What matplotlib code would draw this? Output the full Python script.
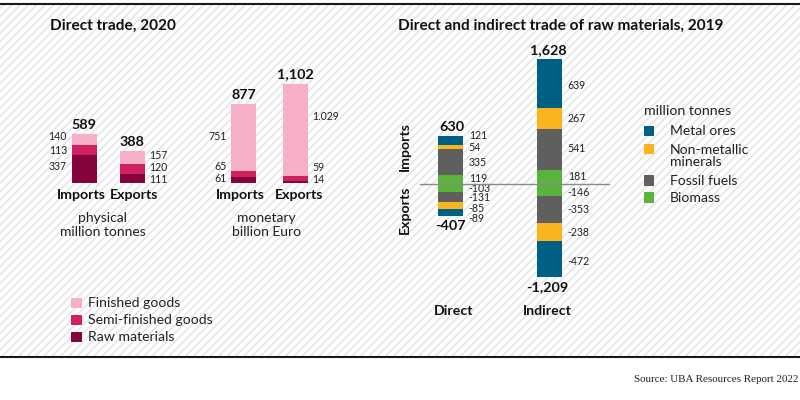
import matplotlib
matplotlib.use('Agg')
import matplotlib.pyplot as plt
from matplotlib.patches import Rectangle

plt.rcParams['font.family'] = ['Lato', 'DejaVu Sans']
plt.rcParams['hatch.linewidth'] = 1.2

W, H = 800, 400

# direct trade 2020: raw, semi-finished, finished
goods = ['Raw materials', 'Semi-finished goods', 'Finished goods']
goods_colors = ['#83053c', '#cf2060', '#f5b0c5']
trade_labels = ['Imports', 'Exports']
physical = [[337, 111], [113, 120], [140, 157]]
physical_totals = ['589', '388']
monetary = [[61, 14], [65, 59], [751, 1029]]
monetary_labels = [['61', '14'], ['65', '59'], ['751', '1.029']]
monetary_totals = ['877', '1,102']

# direct and indirect trade 2019: biomass outwards to metal ores
materials = ['Biomass', 'Fossil fuels', 'Non-metallic\nminerals', 'Metal ores']
material_colors = ['#5ab43c', '#5f5f5f', '#fab41e', '#005f85']
flow_labels = ['Direct', 'Indirect']
imports_2019 = [[119, 181], [335, 541], [54, 267], [121, 639]]
exports_2019 = [[-103, -146], [-131, -353], [-85, -238], [-89, -472]]
imports_totals = ['630', '1,628']
exports_totals = ['-407', '-1,209']

fig = plt.figure(figsize=(W / 100, H / 100), dpi=100, facecolor='white')

# full figure overlay in pixels, y going down
bg = fig.add_axes([0, 0, 1, 1], zorder=0)
bg.set_xlim(0, W)
bg.set_ylim(H, 0)
bg.axis('off')
bg.add_patch(Rectangle((0, 4), W, 353, facecolor='white', edgecolor='#e3e5e8',
                       hatch='////', linewidth=0))
bg.plot([0, W], [3.5, 3.5], color='#1a1a1a', lw=1.5, solid_capstyle='butt')
bg.plot([0, W], [357, 357], color='#1a1a1a', lw=1.5, solid_capstyle='butt')


def panel(left, right, top, bottom, ylim, xlim):
    ax = fig.add_axes([left / W, 1 - bottom / H, (right - left) / W, (bottom - top) / H],
                      zorder=2)
    ax.set_xlim(*xlim)
    ax.set_ylim(*ylim)
    ax.axis('off')
    ax.patch.set_alpha(0)
    return ax


def seg_label(ax, x, y, text, side, dy, gap):
    ax.annotate(text, (x, y), xytext=(gap * side * 0.72, -dy * 0.72),
                textcoords='offset points', fontsize=7.6, color='#222222',
                ha='left' if side > 0 else 'right', va='center')


def total_label(ax, x, y, text, dx, dy):
    ax.annotate(text, (x, y), xytext=(dx * 0.72, dy * 0.72), textcoords='offset points',
                fontsize=10.4, fontweight='bold', color='#111111', ha='center', va='center')


def stacked(ax, series, colors, width):
    for i in range(2):
        base = 0
        for vals, c in zip(series, colors):
            ax.bar(i, vals[i], width, bottom=base, color=c, linewidth=0)
            base += vals[i]


# physical panel
ax1 = panel(60.5, 156.5, 60, 182.7, (0, 122.7 / 0.0827), (-0.5, 1.5))
stacked(ax1, physical, goods_colors, 25 / 48)
phys_dy = [[-2, 1], [0, -1], [-2.7, -1.4]]
for i, side, gap in [(0, -1, 5), (1, 1, 4.5)]:
    base = 0
    for s, vals in enumerate(physical):
        seg_label(ax1, i + side * 25 / 96, base + vals[i] / 2, str(vals[i]), side, phys_dy[s][i], gap)
        base += vals[i]
    total_label(ax1, i, base, physical_totals[i], -0.8, 9)

# monetary panel
ax2 = panel(217.9, 321.1, 60, 182.7, (0, 122.7 / 0.09), (-0.5, 1.5))
stacked(ax2, monetary, goods_colors, 24.7 / 51.6)
mon_dy = [[-1, -3], [-7.3, -11.7], [-1.3, -13.8]]
for i, side, gap in [(0, -1, 4.6), (1, 1, 4.4)]:
    base = 0
    for s, vals in enumerate(monetary):
        seg_label(ax2, i + side * 24.7 / 103.2, base + vals[i] / 2, monetary_labels[s][i], side, mon_dy[s][i], gap)
        base += vals[i]
    total_label(ax2, i, base, monetary_totals[i], 0, 9)

# raw materials panel
scale = 0.0768
ax3 = panel(401.35, 620, 40, 300, ((184.3 - 300) / scale, (184.3 - 40) / scale),
            (-0.5, -0.5 + 218.65 / 98.9))
bar_w = 25 / 98.9
stacked(ax3, imports_2019, material_colors, bar_w)
stacked(ax3, exports_2019, material_colors, bar_w)
ax3.plot([(420.3 - 401.35) / 98.9 - 0.5, (608.7 - 401.35) / 98.9 - 0.5], [0, 0],
         color='#8a8a8a', lw=1, zorder=5)
imp_dy = [[-1.4, -1], [0.4, -1], [0.3, 0.4], [-4.7, 2]]
exp_dy = [[-0.2, 3], [0.4, 0.7], [2.8, 1], [5.8, 2.7]]
for i in range(2):
    for series, dys, lab, off in [(imports_2019, imp_dy, imports_totals[i], -9),
                                  (exports_2019, exp_dy, exports_totals[i], 10)]:
        base = 0
        for s, vals in enumerate(series):
            seg_label(ax3, i + bar_w / 2, base + vals[i] / 2, str(vals[i]), 1, dys[s][i], 5.5)
            base += vals[i]
        total_label(ax3, i, base, lab, [1, -1][i] if off < 0 else [0, -2.5][i], -off)

# texts in pixel positions
label_font = dict(fontsize=10.2, fontweight='bold', color='#111111', ha='center', va='center')
for x, y, s in [(81.7, 195, trade_labels[0]), (133.7, 195, trade_labels[1]),
                (240, 195, trade_labels[0]), (299.3, 195, trade_labels[1]),
                (453.3, 311.3, flow_labels[0]), (547, 311.3, flow_labels[1])]:
    bg.text(x, y, s, **label_font)
bg.text(405.3, 146.7, trade_labels[0], rotation=90, **label_font)
bg.text(405.3, 210, trade_labels[1], rotation=90, **label_font)

bg.text(50, 26, 'Direct trade, 2020', fontsize=11.1, fontweight='bold', color='#111111', va='center')
bg.text(397.7, 26, 'Direct and indirect trade of raw materials, 2019', fontsize=11.1,
        fontweight='bold', color='#111111', va='center')

sub_font = dict(fontsize=10, color='#222222', ha='center', va='center')
bg.text(102.7, 218, 'physical', **sub_font)
bg.text(102.7, 232, 'million tonnes', **sub_font)
bg.text(266.7, 218, 'monetary', **sub_font)
bg.text(266.7, 232, 'billion Euro', **sub_font)

# left legend
for y, s, c in zip([337, 319.7, 302.7], goods, goods_colors):
    bg.add_patch(Rectangle((71.3, y - 5.2), 10.4, 10.4, facecolor=c, linewidth=0))
    bg.text(88.3, y, s, fontsize=10.1, color='#222222', va='center')

# right legend
bg.text(644.3, 111, 'million tonnes', fontsize=10.2, color='#222222', va='center')
for y, c in zip([197.3, 180.3, 149, 131], material_colors):
    bg.add_patch(Rectangle((644, y - 5.2), 10.4, 10.4, facecolor=c, linewidth=0))
for y, s in zip([198, 180.7, 156.3, 131], materials):
    bg.text(669.7, y, s, fontsize=10.1, color='#222222', va='center', linespacing=1.0)

bg.text(798, 379, 'Source: UBA Resources Report 2022', family='Liberation Serif', fontsize=7.9,
        color='#222222', ha='right', va='center')

fig.savefig('out.png', dpi=100)
